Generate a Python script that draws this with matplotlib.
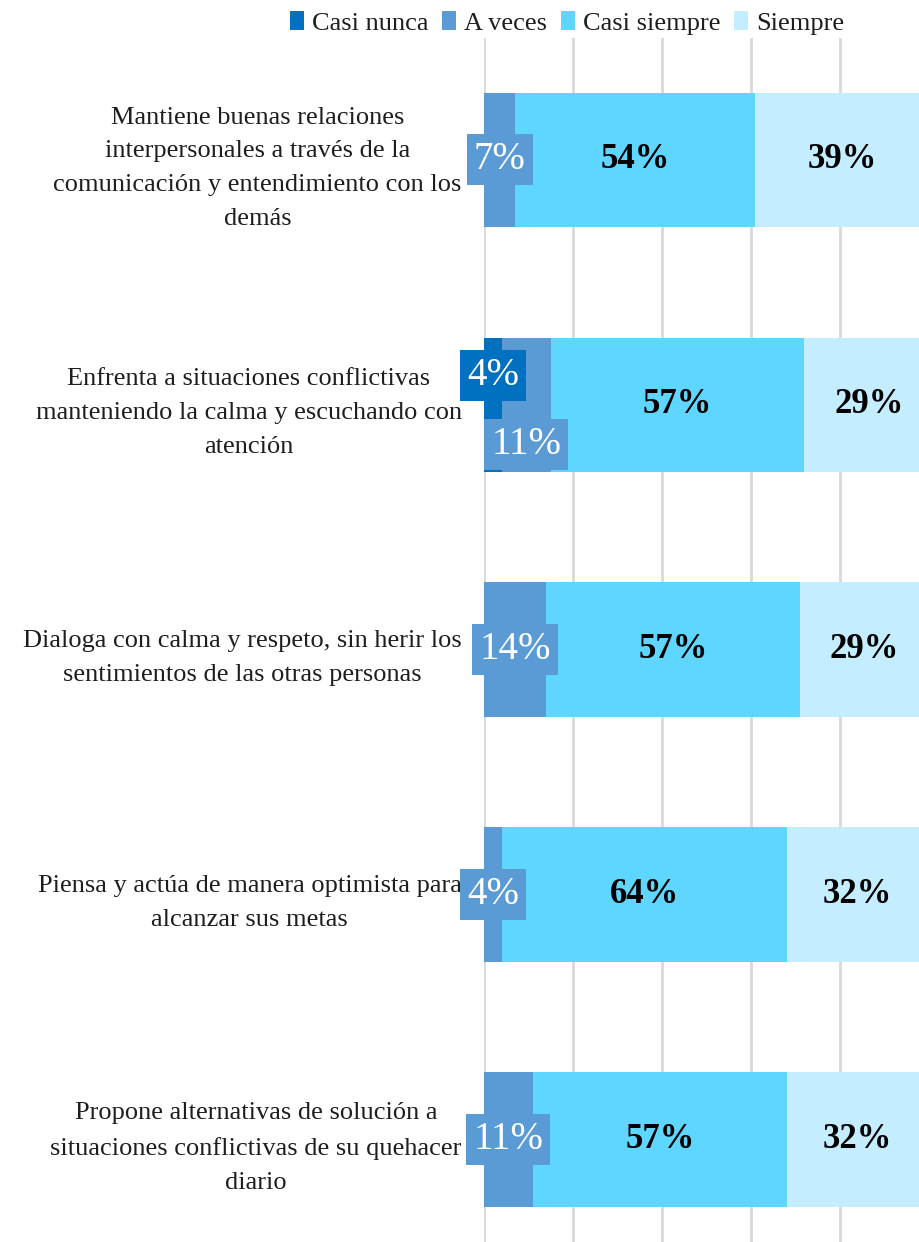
import matplotlib.pyplot as plt
import numpy as np

plt.rcParams['font.family'] = ['Liberation Serif', 'DejaVu Serif']

categories = [
    "Mantiene buenas relaciones\ninterpersonales a través de la\ncomunicación y entendimiento con los\ndemás",
    "Enfrenta a situaciones conflictivas\nmanteniendo la calma y escuchando con\natención",
    "Dialoga con calma y respeto, sin herir los\nsentimientos de las otras personas",
    "Piensa y actúa de manera optimista para\nalcanzar sus metas",
    "Propone alternativas de solución a\nsituaciones conflictivas de su quehacer\ndiario",
]
series = ["Casi nunca", "A veces", "Casi siempre", "Siempre"]
casi_nunca = [0, 4, 0, 0, 0]
a_veces = [7, 11, 14, 4, 11]
casi_siempre = [54, 57, 57, 64, 57]
siempre = [39, 29, 29, 32, 32]
colors = ["#0070C0", "#5B9BD5", "#5FD6FF", "#C4EEFF"]

values = [casi_nunca, a_veces, casi_siempre, siempre]

fig = plt.figure(figsize=(9.19, 12.42), dpi=100)
# plot area is wider/taller than the picture (cropped like the original)
ax = fig.add_axes([484 / 919, -20 / 1242, 445 / 919, 1224.5 / 1242])

y = np.arange(len(categories))
left = np.zeros(len(categories))
for i, (name, vals) in enumerate(zip(series, values)):
    vals = np.array(vals, dtype=float)
    ax.barh(y, vals, left=left, height=0.55, color=colors[i], label=name, zorder=2)
    for j, v in enumerate(vals):
        if v == 0:
            continue
        cx = left[j] + v / 2
        if i < 2:
            dy = 0
            if j == 1:
                dy = -0.12 if i == 0 else 0.16
            ax.text(cx, y[j] + dy, f"{v:.0f}%", ha="center", va="center",
                    fontsize=28, color="white", zorder=4,
                    bbox=dict(boxstyle="square,pad=0.18", fc=colors[i], ec="none"))
        else:
            ax.text(cx, y[j], f"{v:.0f}%", ha="center", va="center",
                    fontsize=25, fontweight="bold", color="black", zorder=4)
    left += vals

ax.set_xlim(0, 100)
ax.set_ylim(len(categories) - 0.5, -0.5)
ax.set_xticks([0, 20, 40, 60, 80, 100])
ax.set_xticklabels([])
ax.grid(axis="x", color="#D9D9D9", linewidth=2, zorder=0)
ax.set_yticks(y)
ax.set_yticklabels(categories, fontsize=19, color="#1E1E1E", multialignment="center",
                   linespacing=1.7)
ax.tick_params(axis="both", length=0)
ax.tick_params(axis="y", pad=16)
for s in ax.spines.values():
    s.set_visible(False)

fig.legend(loc="upper center", bbox_to_anchor=(567 / 919, 1.01), ncol=4, frameon=False,
           fontsize=19, handlelength=0.55, handleheight=0.7, handletextpad=0.3,
           columnspacing=0.5, labelcolor="#1E1E1E")

fig.savefig("out.png", dpi=100)
